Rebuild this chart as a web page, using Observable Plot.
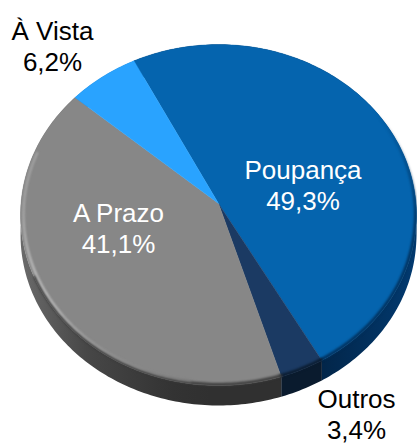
<!DOCTYPE html>
<html><head><meta charset="utf-8">
<script src="https://cdn.jsdelivr.net/npm/d3@7"></script>
<script src="https://cdn.jsdelivr.net/npm/@observablehq/plot@0.6"></script>
<style>html,body{margin:0;background:#fff}svg{display:block}</style>
</head><body><div id="c"></div>
<script>
const categories = ["Poupança", "Outros", "A Prazo", "À Vista"];
const shares = [49.3, 3.4, 41.1, 6.2];
const topColors = ["#0564AE", "#1B3A63", "#878787", "#29A3FF"];
const wallColors = ["url(#wallBlue)", "#0A1B2E", "url(#wallGray)", "#1a6fb0"];
const labelColors = ["#fff", "#000", "#fff", "#000"];
const labelAnchors = [[302.5, 184], [356, 413], [118, 227], [52, 45]];

// Perspective of the tilted disc
const W = 417, H = 444, cx = 218, cy = 203, B = 197.5, A = 169.7, k = 0.0675, depth = 20, startAngle = -27;
const rad = Math.PI / 180;
const rim = (deg, scale = 1, drop = 0) => {
  const X = Math.sin(deg * rad) * scale, Y = Math.cos(deg * rad) * scale, w = 1 + k * Y;
  return {x: X / w, y: Y / w - drop / A};
};
const arc = (a0, a1, scale, drop) => d3.range(a0, a1, 1).concat(a1).map(d => rim(d, scale, drop));
let acc = startAngle;
const slices = categories.map((name, i) => {
  const a0 = acc, a1 = acc + shares[i] * 3.6; acc = a1;
  return {name, share: shares[i], a0, a1, top: topColors[i], wall: wallColors[i]};
});
const fromPx = (px, py) => ({x: (px - cx) / B, y: (cy - py) / A});
const labels = categories.map((name, i) => ({
  ...fromPx(...labelAnchors[i]),
  text: `${name}\n${shares[i].toFixed(1).replace(".", ",")}%`,
  color: labelColors[i]
}));
const defs = () => {
  const ns = "http://www.w3.org/2000/svg";
  const g = document.createElementNS(ns, "g");
  g.innerHTML = `<defs>
  <linearGradient id="wallGray" gradientUnits="userSpaceOnUse" x1="20" x2="210" y1="0" y2="0">
    <stop offset="0" stop-color="#6a6a6a"/><stop offset=".35" stop-color="#474747"/><stop offset=".8" stop-color="#333"/><stop offset="1" stop-color="#303030"/></linearGradient>
  <linearGradient id="wallBlue" gradientUnits="userSpaceOnUse" x1="323" x2="417" y1="0" y2="0">
    <stop offset="0" stop-color="#02264A"/><stop offset="1" stop-color="#023A70"/></linearGradient>
  <linearGradient id="edgeBlue" gradientUnits="userSpaceOnUse" x1="0" x2="0" y1="110" y2="240">
    <stop offset="0" stop-color="#01305c" stop-opacity="0"/><stop offset="1" stop-color="#01305c"/></linearGradient>
  <linearGradient id="shine" gradientUnits="userSpaceOnUse" x1="25" x2="210" y1="200" y2="385">
    <stop offset="0" stop-color="#a8a8a8"/><stop offset=".3" stop-color="#d0d0d0"/><stop offset=".6" stop-color="#a0a0a0"/><stop offset="1" stop-color="#7a7a7a"/></linearGradient>
  </defs>`;
  return g;
};
const pts = {x: "x", y: "y"};
const line = (data, o) => Plot.line(data, {...pts, curve: "linear", ...o});
const marks = [defs];
for (const s of slices) {
  const outer = arc(s.a0, s.a1, 1, 0);
  const lower = arc(s.a0, s.a1, 1, depth).reverse();
  marks.push(line([...outer, ...lower], {fill: s.wall, stroke: "none"}));
}
for (const s of slices) {
  const shape = [{x: 0, y: 0}, ...arc(s.a0, s.a1, 1, 0), {x: 0, y: 0}];
  marks.push(line(shape, {fill: s.top, stroke: s.top, strokeWidth: 0.4}));
}
// Soft bevel along the front edge of the disc
const bevels = [
  {from: 55, to: slices[0].a1, scale: 0.995, color: "url(#edgeBlue)", width: 3},
  {from: slices[1].a0, to: slices[1].a1, scale: 0.995, color: "#0A1B2E", width: 3},
  {from: slices[2].a0, to: 245, scale: 0.995, color: "#3a3a3a", width: 3}
];
for (const b of bevels) {
  marks.push(line(arc(b.from, b.to, b.scale, 0), {stroke: b.color, strokeWidth: b.width, imageFilter: "blur(1.2px)"}));
}
marks.push(line(arc(slices[2].a0 + 25, 288, 0.985, 0), {stroke: "url(#shine)", strokeWidth: 2, imageFilter: "blur(0.8px)"}));
marks.push(Plot.text(labels, {
  ...pts, text: "text", fill: "color", fontSize: 26, lineHeight: 1.19,
  fontFamily: "Liberation Sans, Arial, sans-serif", textAnchor: "middle", lineAnchor: "middle"
}));
const chart = Plot.plot({
  width: W, height: H, margin: 0,
  x: {domain: [-1, 1], range: [cx - B, cx + B], axis: null},
  y: {domain: [-1, 1], range: [cy + A, cy - A], axis: null},
  style: {background: "#fff", overflow: "hidden"},
  marks
});
document.getElementById("c").append(chart);
</script></body></html>
